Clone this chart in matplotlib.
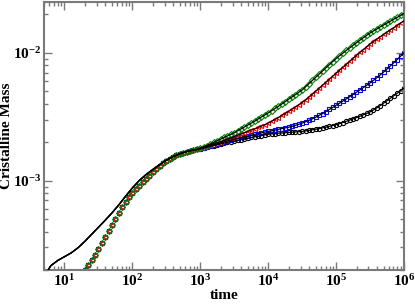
import numpy as np
import matplotlib
matplotlib.use("Agg")
import matplotlib.pyplot as plt
from matplotlib.ticker import FuncFormatter, LogLocator, NullFormatter

# ---- data (log10 values) ----
# early part of the data, where all four series coincide
log_t_early = [1.30, 1.35, 1.40, 1.45, 1.50, 1.55, 1.60, 1.65, 1.70, 1.75, 1.80, 1.85, 1.90, 1.95,
               2.00, 2.05, 2.10, 2.15, 2.20, 2.25, 2.30, 2.35, 2.40, 2.45, 2.50, 2.55, 2.60, 2.65,
               2.70, 2.75, 2.80, 2.85, 2.90, 2.95]
log_m_early = [-3.700, -3.660, -3.620, -3.578, -3.535, -3.488, -3.440, -3.392, -3.345, -3.297,
               -3.250, -3.206, -3.165, -3.130, -3.100, -3.069, -3.040, -3.012, -2.985, -2.960,
               -2.935, -2.910, -2.885, -2.864, -2.845, -2.829, -2.815, -2.802, -2.790, -2.780,
               -2.772, -2.765, -2.760, -2.756]

log_t_late = [3.00, 3.05, 3.10, 3.15, 3.20, 3.25, 3.30, 3.35, 3.40, 3.45, 3.50, 3.55, 3.60, 3.65,
              3.70, 3.75, 3.80, 3.85, 3.90, 3.95, 4.00, 4.05, 4.10, 4.15, 4.20, 4.25, 4.30, 4.35,
              4.40, 4.45, 4.50, 4.55, 4.60, 4.65, 4.70, 4.75, 4.80, 4.85, 4.90, 4.95, 5.00, 5.05,
              5.10, 5.15, 5.20, 5.25, 5.30, 5.35, 5.40, 5.45, 5.50, 5.55, 5.60, 5.65, 5.70, 5.75,
              5.80, 5.85, 5.90, 5.95, 6.00]
log_m_black = [-2.752, -2.745, -2.738, -2.731, -2.725, -2.719, -2.713, -2.706, -2.700, -2.695,
               -2.690, -2.684, -2.678, -2.672, -2.667, -2.662, -2.657, -2.652, -2.647, -2.642,
               -2.637, -2.634, -2.632, -2.629, -2.627, -2.625, -2.623, -2.621, -2.619, -2.617,
               -2.615, -2.611, -2.607, -2.602, -2.597, -2.592, -2.587, -2.581, -2.575, -2.569,
               -2.562, -2.554, -2.545, -2.536, -2.526, -2.516, -2.506, -2.496, -2.485, -2.474,
               -2.462, -2.447, -2.430, -2.412, -2.393, -2.374, -2.355, -2.336, -2.316, -2.296,
               -2.275]
log_m_blue = [-2.750, -2.742, -2.735, -2.727, -2.720, -2.712, -2.705, -2.697, -2.690, -2.682,
              -2.675, -2.668, -2.662, -2.656, -2.650, -2.644, -2.638, -2.632, -2.626, -2.620,
              -2.615, -2.610, -2.604, -2.598, -2.592, -2.587, -2.582, -2.575, -2.567, -2.559,
              -2.550, -2.539, -2.528, -2.516, -2.503, -2.489, -2.475, -2.459, -2.443, -2.427,
              -2.410, -2.394, -2.377, -2.360, -2.343, -2.326, -2.308, -2.290, -2.272, -2.254,
              -2.235, -2.215, -2.195, -2.173, -2.150, -2.126, -2.102, -2.077, -2.052, -2.026,
              -2.000]
log_m_red = [-2.748, -2.739, -2.730, -2.721, -2.712, -2.703, -2.694, -2.685, -2.675, -2.665,
             -2.655, -2.645, -2.635, -2.625, -2.615, -2.605, -2.595, -2.584, -2.573, -2.562,
             -2.550, -2.536, -2.521, -2.506, -2.490, -2.474, -2.458, -2.441, -2.424, -2.406,
             -2.388, -2.367, -2.345, -2.323, -2.300, -2.277, -2.253, -2.230, -2.207, -2.183,
             -2.160, -2.136, -2.113, -2.090, -2.067, -2.043, -2.020, -1.997, -1.975, -1.952,
             -1.930, -1.911, -1.893, -1.874, -1.856, -1.838, -1.820, -1.802, -1.785, -1.767,
             -1.750]
log_m_green = [-2.745, -2.735, -2.725, -2.712, -2.700, -2.687, -2.675, -2.662, -2.650, -2.638,
               -2.625, -2.610, -2.595, -2.580, -2.565, -2.550, -2.535, -2.518, -2.502, -2.486,
               -2.470, -2.453, -2.435, -2.418, -2.400, -2.382, -2.363, -2.345, -2.327, -2.309,
               -2.290, -2.266, -2.241, -2.216, -2.191, -2.167, -2.142, -2.117, -2.092, -2.068,
               -2.045, -2.023, -2.002, -1.981, -1.961, -1.941, -1.921, -1.901, -1.882, -1.863,
               -1.845, -1.829, -1.813, -1.797, -1.782, -1.767, -1.752, -1.737, -1.722, -1.707,
               -1.693]

# early part of the fitted curves (common black solid line)
log_t_fit = [0.76, 0.80, 0.85, 0.9, 1.0, 1.1, 1.2, 1.3, 1.4, 1.5, 1.6, 1.7, 1.8, 1.9, 2.0,
             2.1, 2.2, 2.3, 2.4, 2.5, 2.6, 2.7, 2.8, 2.9, 2.95]
log_m_fit = [-3.70, -3.665, -3.645, -3.625, -3.595, -3.565, -3.525, -3.475, -3.42, -3.365, -3.31,
             -3.252, -3.19, -3.122, -3.057, -3.0, -2.953, -2.913, -2.875, -2.84, -2.812,
             -2.79, -2.772, -2.76, -2.756]

xticks_exp = [1, 2, 3, 4, 5, 6]
yticks_exp = [-3, -2]

# ---- style ----
plt.rcParams['font.family'] = ['Liberation Serif', 'DejaVu Serif']
plt.rcParams['font.weight'] = 'bold'
plt.rcParams['mathtext.fontset'] = 'custom'
plt.rcParams['mathtext.rm'] = 'Liberation Serif:bold'
plt.rcParams['mathtext.bf'] = 'Liberation Serif:bold'
plt.rcParams['mathtext.it'] = 'Liberation Serif:bold:italic'

fig = plt.figure(figsize=(4.15, 3.06), dpi=100)
ax = fig.add_axes([44/415, 36/306, 360/415, 268/306])

series = [
    (log_m_black, 'o', 'black'),
    (log_m_blue, 's', 'blue'),
    (log_m_red, '<', 'red'),
    (log_m_green, 'D', 'green'),
]

t_early = 10.0 ** np.array(log_t_early)
t_late = 10.0 ** np.array(log_t_late)
t_fit = 10.0 ** np.array(log_t_fit)

for vals, mk, col in series:
    t = np.concatenate([t_early, t_late])
    m = 10.0 ** np.concatenate([log_m_early, vals])
    ax.plot(t, m, linestyle='none', marker=mk, ms=3.0, mfc='none', mec=col, mew=0.8, zorder=2)

for vals, mk, col in series:
    t = np.concatenate([t_fit, t_late])
    m = 10.0 ** np.concatenate([log_m_fit, vals])
    ax.plot(t, m, color='black', lw=0.9, zorder=3)

ax.set_xscale('log')
ax.set_yscale('log')
ax.set_xlim(5, 1e6)
ax.set_ylim(2e-4, 0.025)

ax.xaxis.set_major_locator(LogLocator(base=10, numticks=20))
ax.xaxis.set_minor_locator(LogLocator(base=10, subs=np.arange(2, 10), numticks=20))
ax.yaxis.set_major_locator(LogLocator(base=10, numticks=20))
ax.yaxis.set_minor_locator(LogLocator(base=10, subs=np.arange(2, 10), numticks=20))
fmt = FuncFormatter(lambda v, p: r'$\mathbf{10^{%d}}$' % int(round(np.log10(v))))
ax.xaxis.set_major_formatter(fmt)
ax.yaxis.set_major_formatter(fmt)
ax.xaxis.set_minor_formatter(NullFormatter())
ax.yaxis.set_minor_formatter(NullFormatter())
ax.set_xticks([10.0 ** e for e in xticks_exp])
ax.set_yticks([10.0 ** e for e in yticks_exp])

frame_col = '#7a7a7a'
for s in ax.spines.values():
    s.set_color(frame_col)
    s.set_linewidth(1.5)
ax.tick_params(which='both', direction='in', top=True, right=True, color=frame_col, width=1.0)
ax.tick_params(which='major', length=6, labelsize=11, pad=2)
ax.tick_params(which='minor', length=3)

ax.set_xlabel('time', fontsize=11, fontweight='bold', labelpad=0)
ax.set_ylabel('Cristalline Mass', fontsize=11, fontweight='bold', va='center')
ax.yaxis.set_label_coords(-0.104, 0.5)

fig.savefig('out.png', dpi=100)
